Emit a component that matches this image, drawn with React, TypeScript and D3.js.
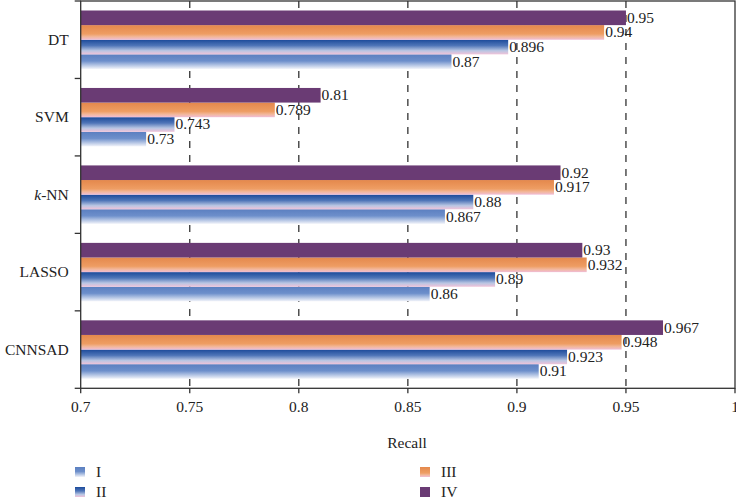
import React from "react";
import * as d3 from "d3";

const categories = ["DT", "SVM", "k-NN", "LASSO", "CNNSAD"];
const seriesNames = ["I", "II", "III", "IV"];
const seriesI = [0.87, 0.73, 0.867, 0.86, 0.91];
const seriesII = [0.896, 0.743, 0.88, 0.89, 0.923];
const seriesIII = [0.94, 0.789, 0.917, 0.932, 0.948];
const seriesIV = [0.95, 0.81, 0.92, 0.93, 0.967];
const xTicks = [0.7, 0.75, 0.8, 0.85, 0.9, 0.95, 1];
const valueLabels = [
  ["0.87", "0.73", "0.867", "0.86", "0.91"],
  ["0.896", "0.743", "0.88", "0.89", "0.923"],
  ["0.94", "0.789", "0.917", "0.932", "0.948"],
  ["0.95", "0.81", "0.92", "0.93", "0.967"],
];

const W = 736;
const H = 501;
const left = 80.7;
const right = 735;
const top = 1;
const bottom = 388.3;
const font = "'Liberation Serif', 'DejaVu Serif', serif";

export default function App() {
  const series = [seriesI, seriesII, seriesIII, seriesIV];
  const x = d3.scaleLinear().domain([0.7, 1]).range([left, right]);
  const y = d3.scaleBand().domain(categories).range([top, bottom]).paddingInner(0).paddingOuter(0);
  const bw = y.bandwidth();
  const pad = 9.5;
  const sub = d3
    .scaleBand()
    .domain(["IV", "III", "II", "I"])
    .range([pad, bw - pad]);
  const fills = ["url(#gI)", "url(#gII)", "url(#gIII)", "#6a3b74"];
  const boundaries = d3.range(categories.length + 1).map((i) => top + i * bw);

  return (
    <svg width={W} height={H} style={{ position: "absolute", left: 0, top: 0 }}>
      <defs>
        <linearGradient id="gI" x1="0" y1="0" x2="0" y2="1">
          <stop offset="0" stopColor="#5b7fc0" />
          <stop offset="0.45" stopColor="#6d8fcb" />
          <stop offset="1" stopColor="#f2f4fa" />
        </linearGradient>
        <linearGradient id="gII" x1="0" y1="0" x2="0" y2="1">
          <stop offset="0" stopColor="#1c4a9a" />
          <stop offset="0.4" stopColor="#4f75b8" />
          <stop offset="0.75" stopColor="#b9c6e3" />
          <stop offset="1" stopColor="#f0c2d8" />
        </linearGradient>
        <linearGradient id="gIII" x1="0" y1="0" x2="0" y2="1">
          <stop offset="0" stopColor="#e4884c" />
          <stop offset="0.6" stopColor="#ee9d63" />
          <stop offset="0.8" stopColor="#f2b79a" />
          <stop offset="1" stopColor="#f0bcd6" />
        </linearGradient>
      </defs>
      <rect x={0} y={0} width={W} height={H} fill="#fff" />
      {xTicks.slice(1, -1).map((t) => (
        <line
          key={"g" + t}
          x1={x(t)}
          x2={x(t)}
          y1={top}
          y2={bottom}
          stroke="#333"
          strokeWidth={1.3}
          strokeDasharray="7,7"
        />
      ))}
      {categories.map((c, ci) => (
        <g key={c} transform={`translate(0,${y(c)})`}>
          {series.map((s, si) => (
            <g key={si}>
              <rect
                x={x(0.7)}
                y={sub(seriesNames[si])}
                width={x(s[ci]) - x(0.7)}
                height={sub.bandwidth()}
                fill={fills[si]}
              />
              <text
                x={x(s[ci]) + 1}
                y={(sub(seriesNames[si]) as number) + sub.bandwidth() / 2 + 5}
                fontFamily={font}
                fontSize={15.5}
                fill="#222"
              >
                {valueLabels[si][ci]}
              </text>
            </g>
          ))}
        </g>
      ))}
      <rect x={left} y={top} width={right - left} height={bottom - top} fill="none" stroke="#333" strokeWidth={1.3} />
      {boundaries.map((b, i) => (
        <line key={"yt" + i} x1={left - 6} x2={left} y1={b} y2={b} stroke="#333" strokeWidth={1.3} />
      ))}
      {categories.map((c) => (
        <text
          key={"yl" + c}
          x={left - 12}
          y={(y(c) as number) + bw / 2 + 5}
          textAnchor="end"
          fontFamily={font}
          fontSize={15.5}
          fill="#222"
        >
          {c === "k-NN" ? (
            <>
              <tspan fontStyle="italic">k</tspan>-NN
            </>
          ) : (
            c
          )}
        </text>
      ))}
      {xTicks.map((t) => (
        <g key={"xt" + t}>
          <line x1={x(t)} x2={x(t)} y1={bottom} y2={bottom + 5} stroke="#333" strokeWidth={1.3} />
          <text x={x(t)} y={bottom + 24} textAnchor="middle" fontFamily={font} fontSize={15.5} fill="#222">
            {String(t)}
          </text>
        </g>
      ))}
      <text x={407} y={448} textAnchor="middle" fontFamily={font} fontSize={15.5} fill="#222">
        Recall
      </text>
      {seriesNames.map((n, i) => {
        const lx = i < 2 ? 75 : 420;
        const ly = i % 2 === 0 ? 467 : 487;
        return (
          <g key={"lg" + n}>
            <rect x={lx} y={ly} width={10} height={10} fill={fills[i]} />
            <text x={lx + 21} y={ly + 10} fontFamily={font} fontSize={15.5} fill="#222">
              {n}
            </text>
          </g>
        );
      })}
    </svg>
  );
}
